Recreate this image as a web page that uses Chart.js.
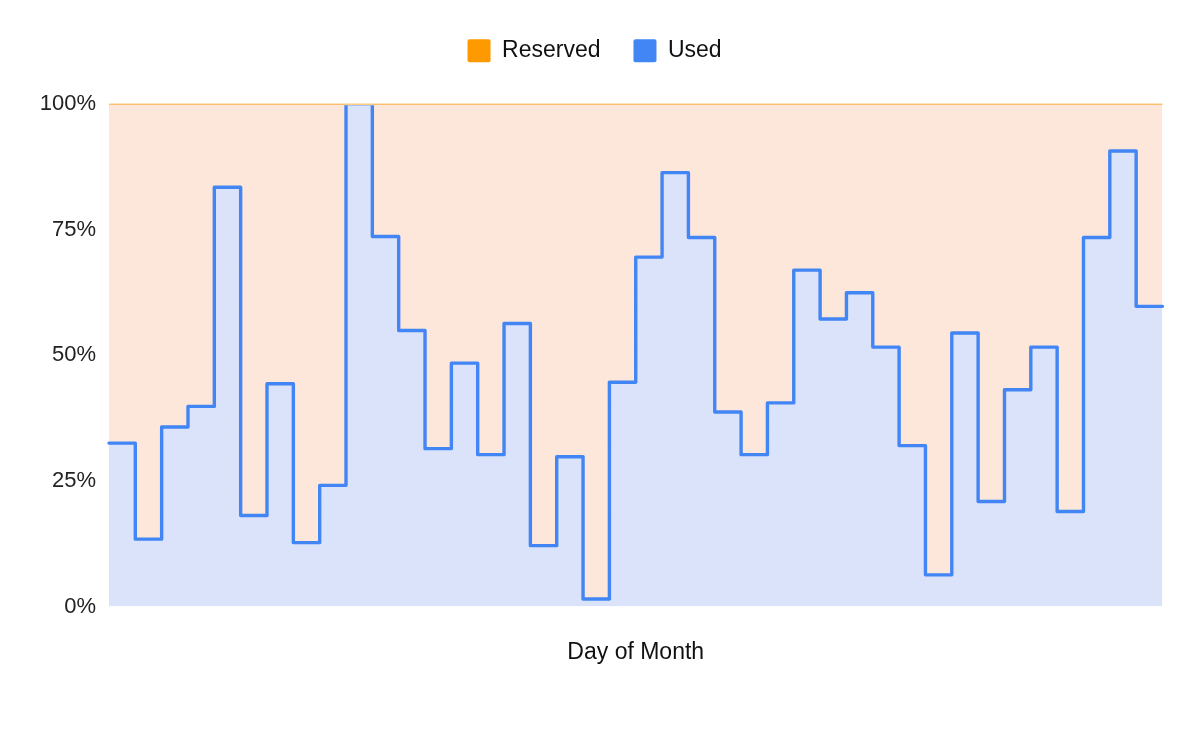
<!DOCTYPE html>
<html>
<head>
<meta charset="utf-8">
<script src="https://cdn.jsdelivr.net/npm/chart.js@4.4.1/dist/chart.umd.min.js"></script>
<style>
  html, body { margin: 0; padding: 0; background: #fff; }
  #wrap { width: 1200px; height: 742px; }
</style>
</head>
<body>
<div id="wrap"><canvas id="usageChart"></canvas></div>
<script>
// step boundaries (one extra at the end closes the last step)
const stepStarts = [0, 1, 2, 3, 4, 5, 6, 7, 8, 9, 10, 11, 12, 13, 14, 15, 16, 17, 18, 19,
    20, 21, 22, 23, 24, 25, 26, 27, 28, 29, 30, 31, 32, 33, 34, 35, 36, 37, 38, 39, 40];
const reserved = [100, 100, 100, 100, 100, 100, 100, 100, 100, 100,
    100, 100, 100, 100, 100, 100, 100, 100, 100, 100,
    100, 100, 100, 100, 100, 100, 100, 100, 100, 100,
    100, 100, 100, 100, 100, 100, 100, 100, 100, 100];
const used = [32.5, 13.4, 35.7, 39.8, 83.4, 18.1, 44.3, 12.7, 24.1, 100,
    73.6, 54.9, 31.4, 48.4, 30.2, 56.3, 12.1, 29.8, 1.5, 44.6,
    69.5, 86.3, 73.4, 38.7, 30.2, 40.5, 66.9, 57.2, 62.4, 51.6,
    32.0, 6.3, 54.4, 20.9, 43.1, 51.6, 18.9, 73.4, 90.6, 59.7];
const yTicks = [0, 25, 50, 75, 100];

const FONT = '"Liberation Sans", Arial, sans-serif';
const closeStep = arr => [...arr, arr[arr.length - 1]];

// push the plot down below the legend
const legendGap = {
    id: 'legendGap',
    beforeInit(chart) {
        const fit = chart.legend.fit;
        chart.legend.fit = function () { fit.call(this); this.height += 31.5; };
    }
};

new Chart(document.getElementById('usageChart'), {
    type: 'line',
    data: {
        labels: stepStarts,
        datasets: [
            {
                label: 'Reserved', data: closeStep(reserved), stepped: true,
                borderColor: '#ff9900', borderWidth: 1.5, backgroundColor: '#fde6da',
                fill: '+1', pointRadius: 0
            },
            {
                label: 'Used', data: closeStep(used), stepped: true,
                borderColor: '#4285f4', borderWidth: 3.4, backgroundColor: '#dbe3fb',
                borderJoinStyle: 'round', borderCapStyle: 'round',
                clip: { left: 2, top: -1.5, right: 2, bottom: 2 },
                fill: 'origin', pointRadius: 0
            }
        ]
    },
    options: {
        responsive: true, maintainAspectRatio: false, animation: false,
        layout: { padding: { top: 6.25, left: 26.7, right: 37.5, bottom: 75.9 } },
        plugins: {
            filler: { drawTime: 'beforeDatasetsDraw' },
            tooltip: { enabled: false },
            legend: {
                position: 'top',
                labels: {
                    color: '#111', font: { family: FONT, size: 23 },
                    boxWidth: 23, boxHeight: 23, padding: 33,
                    useBorderRadius: true, borderRadius: 2,
                    generateLabels(chart) {
                        return Chart.defaults.plugins.legend.labels.generateLabels(chart)
                            .map(l => ({ ...l, fillStyle: l.strokeStyle, lineWidth: 0 }));
                    }
                }
            }
        },
        scales: {
            x: {
                type: 'category', offset: false,
                grid: { display: false, drawTicks: false }, border: { display: false },
                ticks: { display: false },
                title: { display: true, text: 'Day of Month', color: '#111',
                    font: { family: FONT, size: 23 }, padding: { top: 32, bottom: 0 } }
            },
            y: {
                min: 0, max: 100,
                afterBuildTicks: axis => { axis.ticks = yTicks.map(v => ({ value: v })); },
                grid: { display: false, drawTicks: false }, border: { display: false },
                ticks: { color: '#222', padding: 13, font: { family: FONT, size: 22 },
                    callback: v => v + '%' }
            }
        }
    },
    plugins: [legendGap]
});
</script>
</body>
</html>
